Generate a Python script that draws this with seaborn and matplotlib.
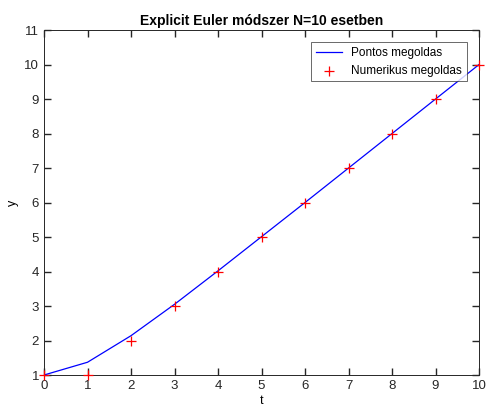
import matplotlib
matplotlib.use("Agg")
import matplotlib.pyplot as plt
import seaborn as sns
import numpy as np

# adatok
t = [0, 1, 2, 3, 4, 5, 6, 7, 8, 9, 10]
y_pontos = [1.0, 1.37, 2.14, 3.05, 4.02, 5.01, 6.0, 7.0, 8.0, 9.0, 10.0]
y_numerikus = [1, 1, 2, 3, 4, 5, 6, 7, 8, 9, 10]

plt.rcParams['font.family'] = ['Liberation Sans', 'DejaVu Sans']

fig = plt.figure(figsize=(4.87, 4.12), dpi=100)
ax = fig.add_axes([0.0904, 0.0898, 0.8932, 0.8372])

sns.lineplot(x=t, y=y_pontos, ax=ax, color='blue', linewidth=0.9, label='Pontos megoldas')
sns.scatterplot(x=t, y=y_numerikus, ax=ax, color='red', marker='+', s=45, linewidth=0.9,
                label='Numerikus megoldas', zorder=3, clip_on=False)

ax.set_xlim(0, 10)
ax.set_ylim(1, 11)
ax.set_xticks(range(0, 11))
ax.set_yticks(range(1, 12))
ax.tick_params(which='major', direction='in', length=5, width=1.0, labelsize=9.5,
               color='#262626', labelcolor='#262626',
               top=True, right=True, bottom=True, left=True)
for s in ax.spines.values():
    s.set_color('#262626')
    s.set_linewidth(0.7)

ax.set_xlabel('t', fontsize=9, labelpad=2)
ax.set_ylabel('y', fontsize=9, labelpad=4)
ax.set_title('Explicit Euler módszer N=10 esetben', fontsize=10, fontweight='bold', pad=4)

leg = ax.legend(loc='upper right', fontsize=8.5, frameon=True, fancybox=False,
                edgecolor='#262626', borderpad=0.4, handlelength=2.2,
                bbox_to_anchor=(0.972, 0.965), borderaxespad=0)
leg.get_frame().set_linewidth(0.6)

fig.savefig('out.png', dpi=100)
